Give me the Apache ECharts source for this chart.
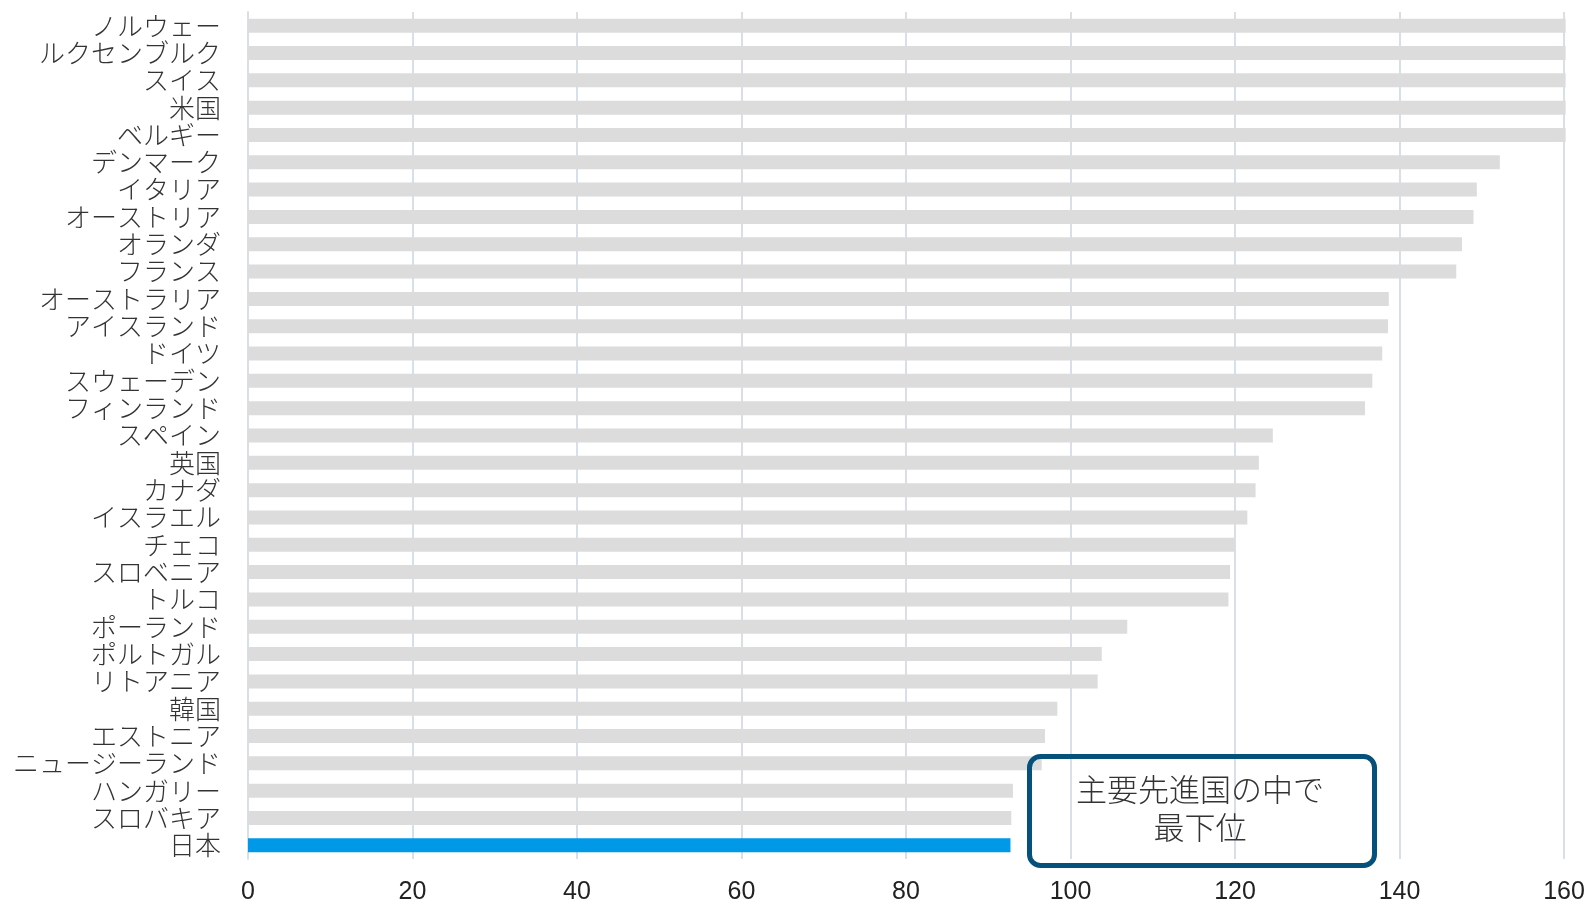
<!DOCTYPE html>
<html>
<head>
<meta charset="utf-8">
<script src="https://cdn.jsdelivr.net/npm/echarts@6/dist/echarts.min.js"></script>
<style>
html,body{margin:0;padding:0;background:#fff;}
#chart{width:1589px;height:905px;}
</style>
</head>
<body>
<div id="chart"></div>
<script>
const categories = ['ノルウェー','ルクセンブルク','スイス','米国','ベルギー','デンマーク','イタリア','オーストリア','オランダ','フランス','オーストラリア','アイスランド','ドイツ','スウェーデン','フィンランド','スペイン','英国','カナダ','イスラエル','チェコ','スロベニア','トルコ','ポーランド','ポルトガル','リトアニア','韓国','エストニア','ニュージーランド','ハンガリー','スロバキア','日本'];
const values = [160.2,160.2,160.2,160.2,160.2,152.2,149.4,149.0,147.6,146.9,138.7,138.6,137.9,136.7,135.8,124.6,122.9,122.5,121.5,120.0,119.4,119.2,106.9,103.8,103.3,98.4,96.9,96.5,93.0,92.8,92.7];
const highlight = '日本';
const xTicks = [0,20,40,60,80,100,120,140,160];
const noteLines = ['主要先進国の中で','最下位'];

const chart = echarts.init(document.getElementById('chart'), null, {renderer:'canvas'});
const option = {
  animation:false,
  grid:{left:248, right:25, top:12, bottom:44, containLabel:false},
  xAxis:{
    type:'value', min:xTicks[0], max:xTicks[xTicks.length-1], interval:20,
    axisLine:{show:false}, axisTick:{show:false},
    axisLabel:{fontFamily:'Liberation Sans, Arial, sans-serif', fontSize:25, color:'#222', margin:21,
      formatter:v=>String(v)},
    splitLine:{show:true, lineStyle:{color:'#d6dfea', width:2}}
  },
  yAxis:{
    type:'category', data:categories, inverse:true,
    axisLine:{show:true, lineStyle:{color:'#d6dfea', width:2}},
    axisTick:{show:false},
    axisLabel:{interval:0, fontFamily:'Noto Sans CJK JP, sans-serif', fontWeight:300, fontSize:26, color:'#333', margin:27}
  },
  series:[{
    type:'bar', barWidth:14, clip:false,
    data: values.map((v,i)=>({value:v, itemStyle:{color: categories[i]===highlight ? '#0099e8' : '#dcdcdc'}}))
  }],
  graphic:[
    {type:'rect', left:1027, top:754, shape:{width:345, height:109, r:11},
     style:{fill:'rgba(0,0,0,0)', stroke:'#06507c', lineWidth:5}, z:100},
    {type:'text', x:1200, y:789, style:{text:noteLines[0], font:'300 31px "Noto Sans CJK JP", sans-serif', fill:'#333', align:'center', verticalAlign:'middle'}, z:101},
    {type:'text', x:1200, y:827, style:{text:noteLines[1], font:'300 31px "Noto Sans CJK JP", sans-serif', fill:'#333', align:'center', verticalAlign:'middle'}, z:101}
  ]
};
chart.setOption(option);
</script>
</body>
</html>
